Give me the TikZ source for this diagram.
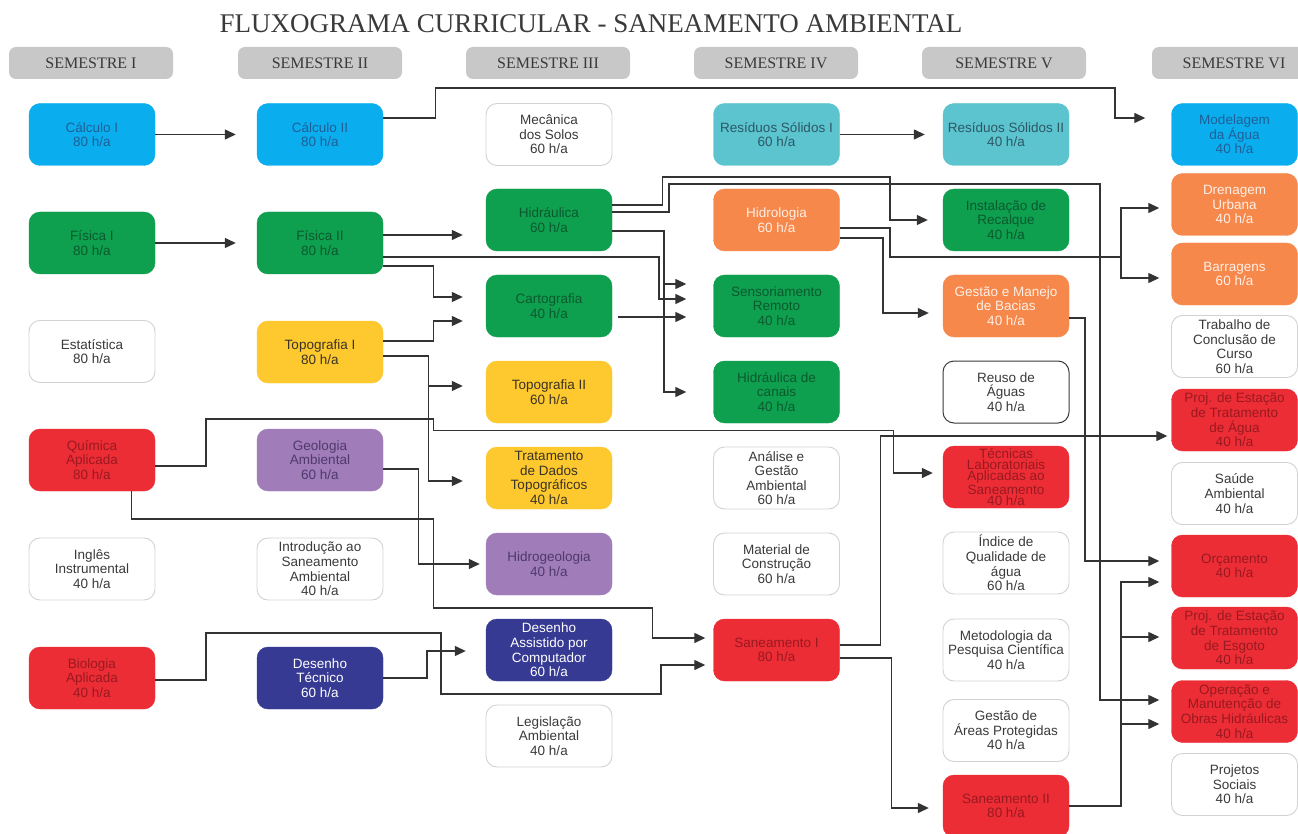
\documentclass[tikz,border=0pt]{standalone}
\usepackage{fontspec}
\setmainfont{Liberation Sans}
\newfontfamily\titlefont{Liberation Serif}
\usetikzlibrary{arrows.meta}
\definecolor{cCyan}{HTML}{0AAEEF}\definecolor{cCyanT}{HTML}{1F5F96}
\definecolor{cGreen}{HTML}{0E9F4F}\definecolor{cGreenT}{HTML}{0B5A2E}
\definecolor{cTeal}{HTML}{5BC4CF}\definecolor{cTealT}{HTML}{2C5864}
\definecolor{cOrange}{HTML}{F5884A}\definecolor{cOrangeT}{HTML}{FFEFE6}
\definecolor{cYellow}{HTML}{FDC92E}\definecolor{cYellowT}{HTML}{3A3325}
\definecolor{cRed}{HTML}{EC2D36}\definecolor{cRedT}{HTML}{9A1920}
\definecolor{cPurple}{HTML}{A07CB9}\definecolor{cPurpleT}{HTML}{4F3A6A}
\definecolor{cNavy}{HTML}{363A93}\definecolor{cNavyT}{HTML}{FFFFFF}
\definecolor{cWhiteB}{HTML}{D2D2D2}\definecolor{cText}{HTML}{3A3A3A}
\definecolor{semgray}{HTML}{C8C8C8}\definecolor{linec}{HTML}{333333}
\tikzset{
  box/.style={rounded corners=11pt, minimum width=126pt, minimum height=62pt,
    align=center, inner sep=1pt, font=\fontsize{13.5}{14.6}\selectfont},
  cyanbox/.style={box, fill=cCyan, draw=cCyan, text=cCyanT},
  greenbox/.style={box, fill=cGreen, draw=cGreen, text=cGreenT},
  tealbox/.style={box, fill=cTeal, draw=cTeal, text=cTealT},
  orangebox/.style={box, fill=cOrange, draw=cOrange, text=cOrangeT},
  yellowbox/.style={box, fill=cYellow, draw=cYellow, text=cYellowT},
  redbox/.style={box, fill=cRed, draw=cRed, text=cRedT},
  purplebox/.style={box, fill=cPurple, draw=cPurple, text=cPurpleT},
  navybox/.style={box, fill=cNavy, draw=cNavy, text=cNavyT},
  whitebox/.style={box, fill=white, draw=cWhiteB, line width=0.9pt, text=cText},
  darkbox/.style={box, fill=white, draw=cText, line width=1pt, text=cText},
  sem/.style={rounded corners=7pt, fill=semgray, minimum width=164pt, minimum height=32pt,
    font=\titlefont\fontsize{16}{16}\selectfont, text=cText},
  arr/.style={draw=linec, line width=1.3pt, -{Triangle[length=11pt,width=10pt]}},
}
\begin{document}
\begin{tikzpicture}[x=1pt,y=-1pt]
\useasboundingbox (0,0) rectangle (1298,834);
\fill[white] (0,0) rectangle (1298,834);

\node[font=\titlefont\fontsize{27}{27}\selectfont, text=cText] (title) at (591,24) {FLUXOGRAMA CURRICULAR - SANEAMENTO AMBIENTAL};

\node[sem] (s1) at (91,63) {SEMESTRE I};
\node[sem] (s2) at (320,63) {SEMESTRE II};
\node[sem] (s3) at (548,63) {SEMESTRE III};
\node[sem] (s4) at (776,63) {SEMESTRE IV};
\node[sem] (s5) at (1004,63) {SEMESTRE V};
\node[sem] (s6) at (1234,63) {SEMESTRE VI};

% ---------- Column I
\node[cyanbox]   (calc1) at (92,134.5) {Cálculo I\\80 h/a};
\node[greenbox]  (fis1)  at (92,243)   {Física I\\80 h/a};
\node[whitebox]  (estat) at (92,351.5) {Estatística\\80 h/a};
\node[redbox]    (quim)  at (92,460)   {Química\\Aplicada\\80 h/a};
\node[whitebox]  (ingl)  at (92,569)   {Inglês\\Instrumental\\40 h/a};
\node[redbox]    (bio)   at (92,678)   {Biologia\\Aplicada\\40 h/a};
% ---------- Column II
\node[cyanbox]   (calc2) at (320,134.5) {Cálculo II\\80 h/a};
\node[greenbox]  (fis2)  at (320,243)   {Física II\\80 h/a};
\node[yellowbox] (topo1) at (320,352)   {Topografia I\\80 h/a};
\node[purplebox] (geo)   at (320,460)   {Geologia\\Ambiental\\60 h/a};
\node[whitebox]  (intro) at (320,569)   {Introdução ao\\Saneamento\\Ambiental\\40 h/a};
\node[navybox]   (des)   at (320,678)   {Desenho\\Técnico\\60 h/a};
% ---------- Column III
\node[whitebox]  (mec)   at (549,134.5) {Mecânica\\dos Solos\\60 h/a};
\node[greenbox]  (hidr)  at (549,220)   {Hidráulica\\60 h/a};
\node[greenbox]  (carto) at (549,306)   {Cartografia\\40 h/a};
\node[yellowbox] (topo2) at (549,392)   {Topografia II\\60 h/a};
\node[yellowbox] (trat)  at (549,478)   {Tratamento\\de Dados\\Topográficos\\40 h/a};
\node[purplebox] (hidg)  at (549,564)   {Hidrogeologia\\40 h/a};
\node[navybox]   (cad)   at (549,650)   {Desenho\\Assistido por\\Computador\\60 h/a};
\node[whitebox]  (legis) at (549,736)   {Legislação\\Ambiental\\40 h/a};
% ---------- Column IV
\node[tealbox]   (res1)  at (776.5,134.5) {Resíduos Sólidos I\\60 h/a};
\node[orangebox] (hidl)  at (776.5,220)   {Hidrologia\\60 h/a};
\node[greenbox]  (senso) at (776.5,306)   {Sensoriamento\\Remoto\\40 h/a};
\node[greenbox]  (canais) at (776.5,392)  {Hidráulica de\\canais\\40 h/a};
\node[whitebox]  (anal)  at (776.5,478)   {Análise e\\Gestão\\Ambiental\\60 h/a};
\node[whitebox]  (mat)   at (776.5,564)   {Material de\\Construção\\60 h/a};
\node[redbox]    (san1)  at (776.5,650)   {Saneamento I\\80 h/a};
% ---------- Column V
\node[tealbox]   (res2)  at (1006,134.5) {Resíduos Sólidos II\\40 h/a};
\node[greenbox]  (recal) at (1006,220)   {Instalação de\\Recalque\\40 h/a};
\node[orangebox] (gest)  at (1006,306)   {Gestão e Manejo\\de Bacias\\40 h/a};
\node[darkbox]   (reuso) at (1006,392)   {Reuso de\\Águas\\40 h/a};
\node[redbox, font=\fontsize{13.5}{11.4}\selectfont] (tec) at (1006,477) {Técnicas\\Laboratoriais\\Aplicadas ao\\Saneamento\\40 h/a};
\node[whitebox]  (ind)   at (1006,563)   {Índice de\\Qualidade de\\água\\60 h/a};
\node[whitebox]  (metod) at (1006,650)   {Metodologia da\\Pesquisa Científica\\40 h/a};
\node[whitebox]  (areas) at (1006,730.5) {Gestão de\\Áreas Protegidas\\40 h/a};
\node[redbox]    (san2)  at (1006,806)   {Saneamento II\\80 h/a};
% ---------- Column VI
\node[cyanbox]   (model) at (1234.5,134.5) {Modelagem\\da Água\\40 h/a};
\node[orangebox] (dren)  at (1234.5,204.5) {Drenagem\\Urbana\\40 h/a};
\node[orangebox] (barr)  at (1234.5,274)   {Barragens\\60 h/a};
\node[whitebox]  (tcc)   at (1234.5,346.5) {Trabalho de\\Conclusão de\\Curso\\60 h/a};
\node[redbox]    (agua)  at (1234.5,420)   {Proj. de Estação\\de Tratamento\\de Água\\40 h/a};
\node[whitebox]  (saude) at (1234.5,493.5) {Saúde\\Ambiental\\40 h/a};
\node[redbox]    (orc)   at (1234.5,566)   {Orçamento\\40 h/a};
\node[redbox]    (esg)   at (1234.5,638)   {Proj. de Estação\\de Tratamento\\de Esgoto\\40 h/a};
\node[redbox]    (oper)  at (1234.5,711.5) {Operação e\\Manutenção de\\Obras Hidráulicas\\40 h/a};
\node[whitebox]  (soc)   at (1234.5,784.5) {Projetos\\Sociais\\40 h/a};

% ---------- connectors
\draw[arr,shorten >=21pt] (calc1.east) -- (calc2.west);
\draw[arr,shorten >=21pt] (fis1.east) -- (fis2.west);
\draw[arr,shorten >=26pt] (calc2.east |- 0,118) -- (435.5,118) -- (435.5,88) -- (1115,88) -- (1115,118) -- (model.west |- 0,118);
\draw[arr,shorten >=23pt] (fis2.east |- 0,235) -- (hidr.west |- 0,235);
\draw[arr,shorten >=23pt] (fis2.east |- 0,266) -- (433.5,266) -- (433.5,297) -- (carto.west |- 0,297);
\draw[arr,shorten >=27pt] (fis2.east |- 0,257) -- (659,257) -- (659,299) -- (senso.west |- 0,299);
\draw[arr,shorten >=27pt] (hidr.east |- 0,231) -- (664,231) -- (664,284) -- (senso.west |- 0,284);
\draw[arr,shorten >=27pt] (hidr.east |- 0,231) -- (664,231) -- (664,392) -- (canais.west |- 0,392);
\draw[arr,shorten <=6pt,shorten >=27pt] (carto.east |- 0,317) -- (senso.west |- 0,317);
\draw[arr,shorten >=15pt] (hidr.east |- 0,205) -- (662.7,205) -- (662.7,177) -- (890,177) -- (890,220) -- (recal.west);
\draw[arr,shorten >=12pt] (hidr.east |- 0,212) -- (669,212) -- (669,184) -- (1100,184) -- (1100,700) -- (oper.west |- 0,700);
\draw[arr,shorten >=12pt] (hidl.east |- 0,228) -- (890,228) -- (890,257) -- (1121,257) -- (1121,208) -- (dren.west |- 0,208);
\draw[arr,shorten >=12pt] (hidl.east |- 0,228) -- (890,228) -- (890,257) -- (1121,257) -- (1121,278) -- (barr.west |- 0,278);
\draw[arr,shorten >=14pt] (hidl.east |- 0,238) -- (883,238) -- (883,313) -- (gest.west |- 0,313);
\draw[arr,shorten >=12pt] (gest.east |- 0,318) -- (1085,318) -- (1085,561) -- (orc.west |- 0,561);
\draw[arr,shorten >=23pt] (topo1.east |- 0,341) -- (433.5,341) -- (433.5,321) -- (carto.west |- 0,321);
\draw[arr,shorten >=23pt] (topo1.east |- 0,356) -- (428.5,356) -- (428.5,386) -- (topo2.west |- 0,386);
\draw[arr,shorten >=23pt] (topo1.east |- 0,356) -- (428.5,356) -- (428.5,481) -- (trat.west |- 0,481);
\draw[arr,shorten >=10pt] (quim.east |- 0,466) -- (206,466) -- (206,419) -- (433.5,419) -- (433.5,430.5) -- (893.5,430.5) -- (893.5,473) -- (tec.west |- 0,473);
\draw[arr,shorten >=4pt] (san1.east |- 0,645) -- (880.7,645) -- (880.7,436) -- (agua.west |- 0,436);
\draw[arr,shorten >=14pt] (san1.east |- 0,658) -- (891.7,658) -- (891.7,808) -- (san2.west |- 0,808);
\draw[arr,shorten >=12pt] (san2.east |- 0,806) -- (1121,806) -- (1121,582) -- (orc.west |- 0,582);
\draw[arr,shorten >=12pt] (san2.east |- 0,806) -- (1121,806) -- (1121,637) -- (esg.west |- 0,637);
\draw[arr,shorten >=12pt] (san2.east |- 0,806) -- (1121,806) -- (1121,724) -- (oper.west |- 0,724);
\draw[arr,shorten >=8pt] (quim.south -| 131.3,0) -- (131.3,519) -- (433.5,519) -- (433.5,608) -- (652.7,608) -- (652.7,638) -- (san1.west |- 0,638);
\draw[arr,shorten >=6pt] (geo.east |- 0,469) -- (418.5,469) -- (418.5,564) -- (hidg.west |- 0,564);
\draw[arr,shorten >=8pt] (bio.east |- 0,680) -- (206,680) -- (206,633) -- (441,633) -- (441,694) -- (661,694) -- (661,665) -- (san1.west |- 0,665);
\draw[arr,shorten >=20pt] (des.east |- 0,678) -- (427,678) -- (427,651) -- (cad.west |- 0,651);
\draw[arr,shorten >=18pt] (res1.east) -- (res2.west);
\end{tikzpicture}
\end{document}
